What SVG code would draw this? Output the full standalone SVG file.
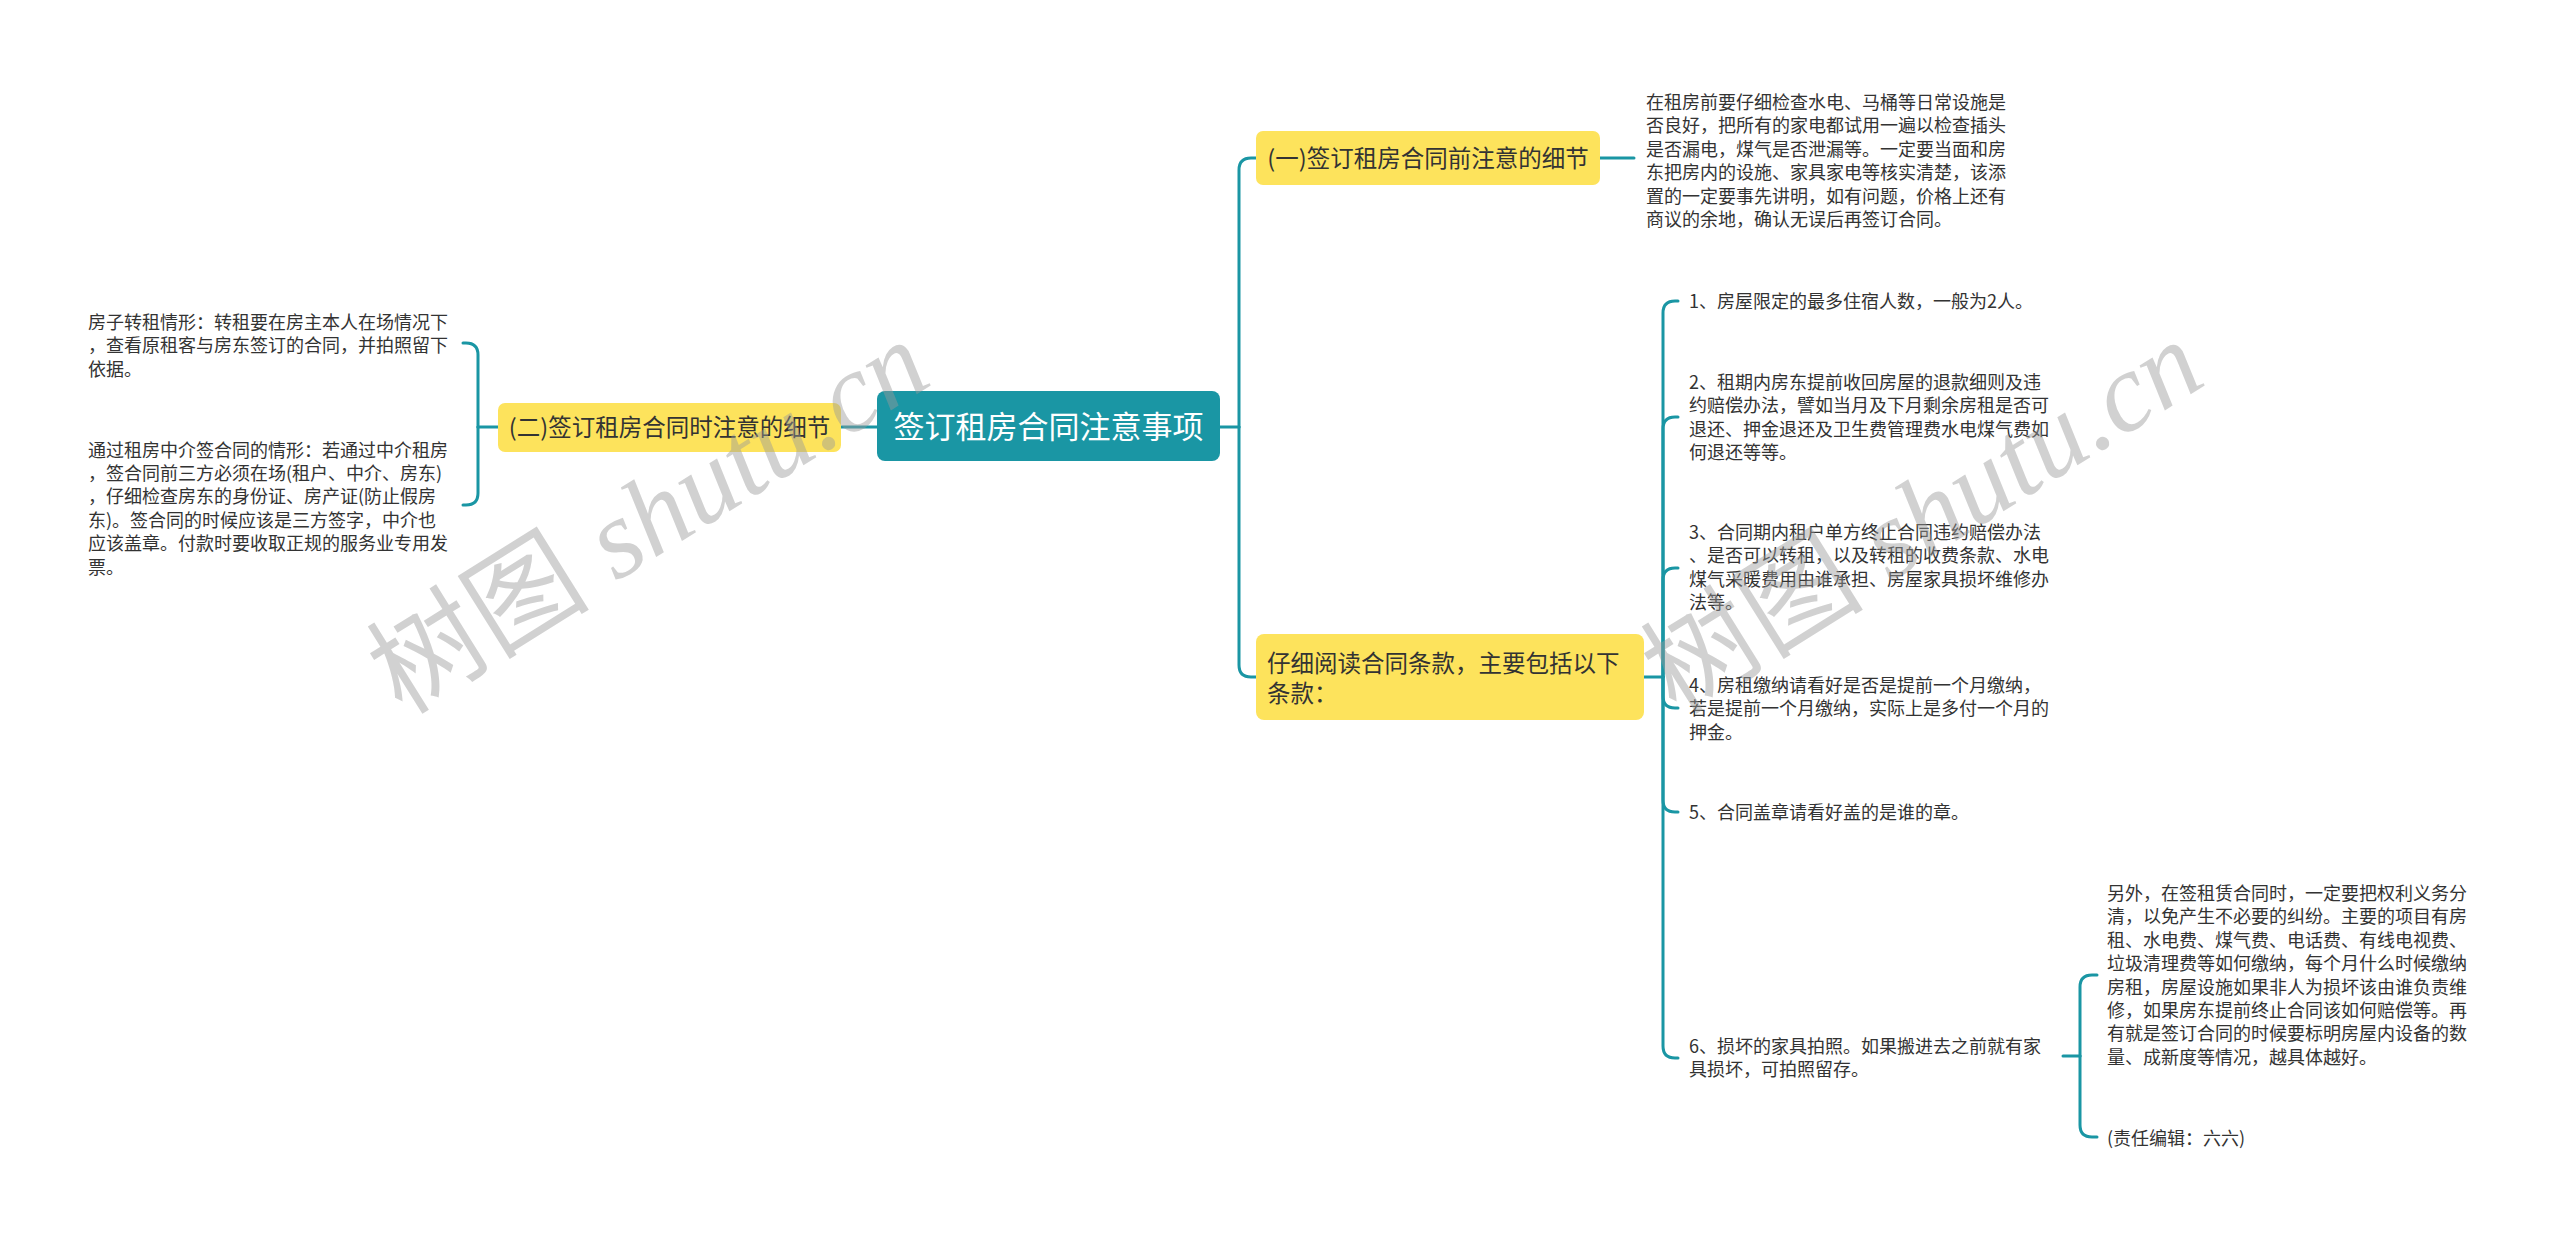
<svg xmlns="http://www.w3.org/2000/svg" width="2560" height="1237" viewBox="0 0 2560 1237">
<style>
.t{font-family:"Noto Sans CJK SC","Noto Sans",sans-serif;font-size:18px;fill:#333333}
.n{font-family:"Noto Sans CJK SC","Noto Sans",sans-serif;font-size:23.5px;fill:#333333}
.r{font-family:"Noto Sans CJK SC","Noto Sans",sans-serif;font-size:31px;fill:#ffffff}
.yl{fill:#fde35c}
.c{fill:none;stroke:#1a96a4;stroke-width:3;stroke-linecap:round;stroke-linejoin:round}
.wm{font-family:"Liberation Serif","Noto Sans CJK SC",serif;font-size:112px;fill:#9a9a9a;fill-opacity:0.45}
</style>
<rect width="2560" height="1237" fill="#ffffff"/>
<g id="connectors">
<path class="c" d="M877 427 L841 427"/>
<path class="c" d="M498 427 L478 427"/>
<path class="c" d="M478 427 L478 355 Q478 343 466 343 L463 343"/>
<path class="c" d="M478 427 L478 493 Q478 505 466 505 L463 505"/>
<path class="c" d="M1220 427 L1239 427"/>
<path class="c" d="M1239 427 L1239 170 Q1239 158 1251 158 L1256 158"/>
<path class="c" d="M1239 427 L1239 665 Q1239 677 1251 677 L1256 677"/>
<path class="c" d="M1600 158 L1634 158"/>
<path class="c" d="M1644 677 L1663 677"/>
<path class="c" d="M1663 677 L1663 313 Q1663 301 1675 301 L1678 301"/>
<path class="c" d="M1663 677 L1663 429 Q1663 417 1675 417 L1678 417"/>
<path class="c" d="M1663 677 L1663 580 Q1663 568 1675 568 L1678 568"/>
<path class="c" d="M1663 677 L1663 696 Q1663 708 1675 708 L1678 708"/>
<path class="c" d="M1663 677 L1663 800 Q1663 812 1675 812 L1678 812"/>
<path class="c" d="M1663 677 L1663 1046 Q1663 1058 1675 1058 L1678 1058"/>
<path class="c" d="M2063 1056 L2080 1056"/>
<path class="c" d="M2080 1056 L2080 987 Q2080 975 2092 975 L2097 975"/>
<path class="c" d="M2080 1056 L2080 1125 Q2080 1137 2092 1137 L2097 1137"/>
</g>
<g id="root">
<rect x="877" y="391" width="343" height="70" rx="8" fill="#1a96a4"/>
<text class="r" x="1048.5" y="437.5" text-anchor="middle">签订租房合同注意事项</text>
</g>
<g id="node-2">
<rect class="yl" x="498" y="403" width="343" height="49" rx="7"/>
<text class="n" x="669.5" y="436" text-anchor="middle">(二)签订租房合同时注意的细节</text>
</g>
<g id="node-2-a">
<text class="t" x="88" y="329">房子转租情形：转租要在房主本人在场情况下</text>
<text class="t" x="88" y="352.4">，查看原租客与房东签订的合同，并拍照留下</text>
<text class="t" x="88" y="375.8">依据。</text>
</g>
<g id="node-2-b">
<text class="t" x="88" y="456.5">通过租房中介签合同的情形：若通过中介租房</text>
<text class="t" x="88" y="479.9">，签合同前三方必须在场(租户、中介、房东)</text>
<text class="t" x="88" y="503.3">，仔细检查房东的身份证、房产证(防止假房</text>
<text class="t" x="88" y="526.7">东)。签合同的时候应该是三方签字，中介也</text>
<text class="t" x="88" y="550.1">应该盖章。付款时要收取正规的服务业专用发</text>
<text class="t" x="88" y="573.5">票。</text>
</g>
<g id="node-1">
<rect class="yl" x="1256" y="131" width="344" height="54" rx="7"/>
<text class="n" x="1428" y="166.5" text-anchor="middle">(一)签订租房合同前注意的细节</text>
</g>
<g id="node-1-a">
<text class="t" x="1646" y="109">在租房前要仔细检查水电、马桶等日常设施是</text>
<text class="t" x="1646" y="132.4">否良好，把所有的家电都试用一遍以检查插头</text>
<text class="t" x="1646" y="155.8">是否漏电，煤气是否泄漏等。一定要当面和房</text>
<text class="t" x="1646" y="179.2">东把房内的设施、家具家电等核实清楚，该添</text>
<text class="t" x="1646" y="202.6">置的一定要事先讲明，如有问题，价格上还有</text>
<text class="t" x="1646" y="226">商议的余地，确认无误后再签订合同。</text>
</g>
<g id="node-3">
<rect class="yl" x="1256" y="634" width="388" height="86" rx="8"/>
<text class="n" x="1267" y="671.5">仔细阅读合同条款，主要包括以下</text>
<text class="n" x="1267" y="701.5">条款：</text>
</g>
<g id="item-1">
<text class="t" x="1689" y="308">1、房屋限定的最多住宿人数，一般为2人。</text>
</g>
<g id="item-2">
<text class="t" x="1689" y="389">2、租期内房东提前收回房屋的退款细则及违</text>
<text class="t" x="1689" y="412.4">约赔偿办法，譬如当月及下月剩余房租是否可</text>
<text class="t" x="1689" y="435.8">退还、押金退还及卫生费管理费水电煤气费如</text>
<text class="t" x="1689" y="459.2">何退还等等。</text>
</g>
<g id="item-3">
<text class="t" x="1689" y="539">3、合同期内租户单方终止合同违约赔偿办法</text>
<text class="t" x="1689" y="562.4">、是否可以转租，以及转租的收费条款、水电</text>
<text class="t" x="1689" y="585.8">煤气采暖费用由谁承担、房屋家具损坏维修办</text>
<text class="t" x="1689" y="609.2">法等。</text>
</g>
<g id="item-4">
<text class="t" x="1689" y="692">4、房租缴纳请看好是否是提前一个月缴纳，</text>
<text class="t" x="1689" y="715.4">若是提前一个月缴纳，实际上是多付一个月的</text>
<text class="t" x="1689" y="738.8">押金。</text>
</g>
<g id="item-5">
<text class="t" x="1689" y="819">5、合同盖章请看好盖的是谁的章。</text>
</g>
<g id="item-6">
<text class="t" x="1689" y="1053">6、损坏的家具拍照。如果搬进去之前就有家</text>
<text class="t" x="1689" y="1076.4">具损坏，可拍照留存。</text>
</g>
<g id="item-6-a">
<text class="t" x="2107" y="900">另外，在签租赁合同时，一定要把权利义务分</text>
<text class="t" x="2107" y="923.4">清，以免产生不必要的纠纷。主要的项目有房</text>
<text class="t" x="2107" y="946.8">租、水电费、煤气费、电话费、有线电视费、</text>
<text class="t" x="2107" y="970.2">垃圾清理费等如何缴纳，每个月什么时候缴纳</text>
<text class="t" x="2107" y="993.6">房租，房屋设施如果非人为损坏该由谁负责维</text>
<text class="t" x="2107" y="1017">修，如果房东提前终止合同该如何赔偿等。再</text>
<text class="t" x="2107" y="1040.4">有就是签订合同的时候要标明房屋内设备的数</text>
<text class="t" x="2107" y="1063.8">量、成新度等情况，越具体越好。</text>
</g>
<g id="item-6-b">
<text class="t" x="2107" y="1144.5">(责任编辑：六六)</text>
</g>
<g id="watermarks">
<text class="wm" x="649" y="555" text-anchor="middle" transform="rotate(-32 649 518)">树图 <tspan font-style="italic">shutu.cn</tspan></text>
<text class="wm" x="1923" y="555" text-anchor="middle" transform="rotate(-32 1923 518)">树图 <tspan font-style="italic">shutu.cn</tspan></text>
</g>
</svg>
